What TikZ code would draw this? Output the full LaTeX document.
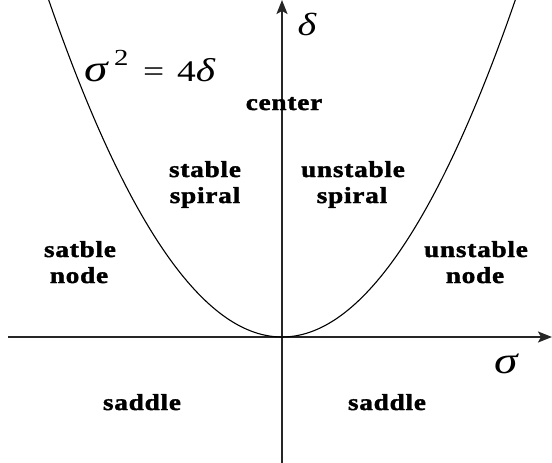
\documentclass[tikz,border=0pt]{standalone}
\usepackage{fontspec}
\setmainfont{Liberation Serif}
\newfontfamily\lblfont[LetterSpace=3, FakeBold=1.6]{Liberation Serif Bold}
\usetikzlibrary{arrows.meta}
\newcommand{\widetxt}[1]{\scalebox{1.25}[1]{#1}}
\newcommand{\lbltxt}[1]{\scalebox{1.18}[1]{#1}}
\tikzset{
  axis/.style={line width=1.7pt, draw=black!85, -{Stealth[length=14pt,width=11pt,inset=3pt]}},
  curve/.style={line width=1.1pt, draw=black},
  lbl/.style={anchor=base, inner sep=0pt, font=\lblfont\fontsize{23}{26}\selectfont},
  greek/.style={anchor=base, inner sep=0pt}
}
\begin{document}
\begin{tikzpicture}[x=1pt,y=-1pt]
\useasboundingbox (0,0) rectangle (552,463);
\clip (0,0) rectangle (552,463);
\fill[white] (0,0) rectangle (552,463);
% axes
\coordinate (xs) at (8,337);
\coordinate (xe) at (552,337);
\coordinate (ys) at (282,463);
\coordinate (ye) at (282,0);
\draw[axis] (xs) -- (xe);
\draw[axis] (ys) -- (ye);
% parabola sigma^2 = 4 delta
\draw[curve] plot[domain=-240:240, samples=121, smooth] ({282+\x},{337-(\x/161.5)*\x});
% axis labels
\node[greek] (dl) at (307,35) {\widetxt{\itshape\fontsize{32}{34}\selectfont δ}};
\node[greek] (sl) at (506,373) {\widetxt{\itshape\fontsize{38}{40}\selectfont σ}};
% equation sigma^2 = 4 delta
\node[anchor=base west, inner sep=0pt] (eqs) at (84,81) {\widetxt{\itshape\fontsize{38}{40}\selectfont σ}};
\node[anchor=base west, inner sep=0pt] (eq2) at (114,65) {\widetxt{\fontsize{23}{25}\selectfont 2}};
\node[anchor=base west, inner sep=0pt] (eqe) at (143,81) {\widetxt{\fontsize{30}{32}\selectfont =}};
\node[anchor=base west, inner sep=0pt] (eqr) at (177,81) {\widetxt{\fontsize{30}{32}\selectfont 4{\itshape\fontsize{33}{36}\selectfont δ}}};
% region labels
\node[lbl] (c1) at (284,110) {\lbltxt{center}};
\node[lbl] (ss1) at (205,177) {\lbltxt{stable}};
\node[lbl] (ss2) at (205,203) {\lbltxt{spiral}};
\node[lbl] (us1) at (353,177) {\lbltxt{unstable}};
\node[lbl] (us2) at (352,203) {\lbltxt{spiral}};
\node[lbl] (sn1) at (80,257) {\lbltxt{satble}};
\node[lbl] (sn2) at (79,283) {\lbltxt{node}};
\node[lbl] (un1) at (476,257) {\lbltxt{unstable}};
\node[lbl] (un2) at (475,283) {\lbltxt{node}};
\node[lbl] (sd1) at (142,410) {\lbltxt{saddle}};
\node[lbl] (sd2) at (387,410) {\lbltxt{saddle}};
\end{tikzpicture}
\end{document}
